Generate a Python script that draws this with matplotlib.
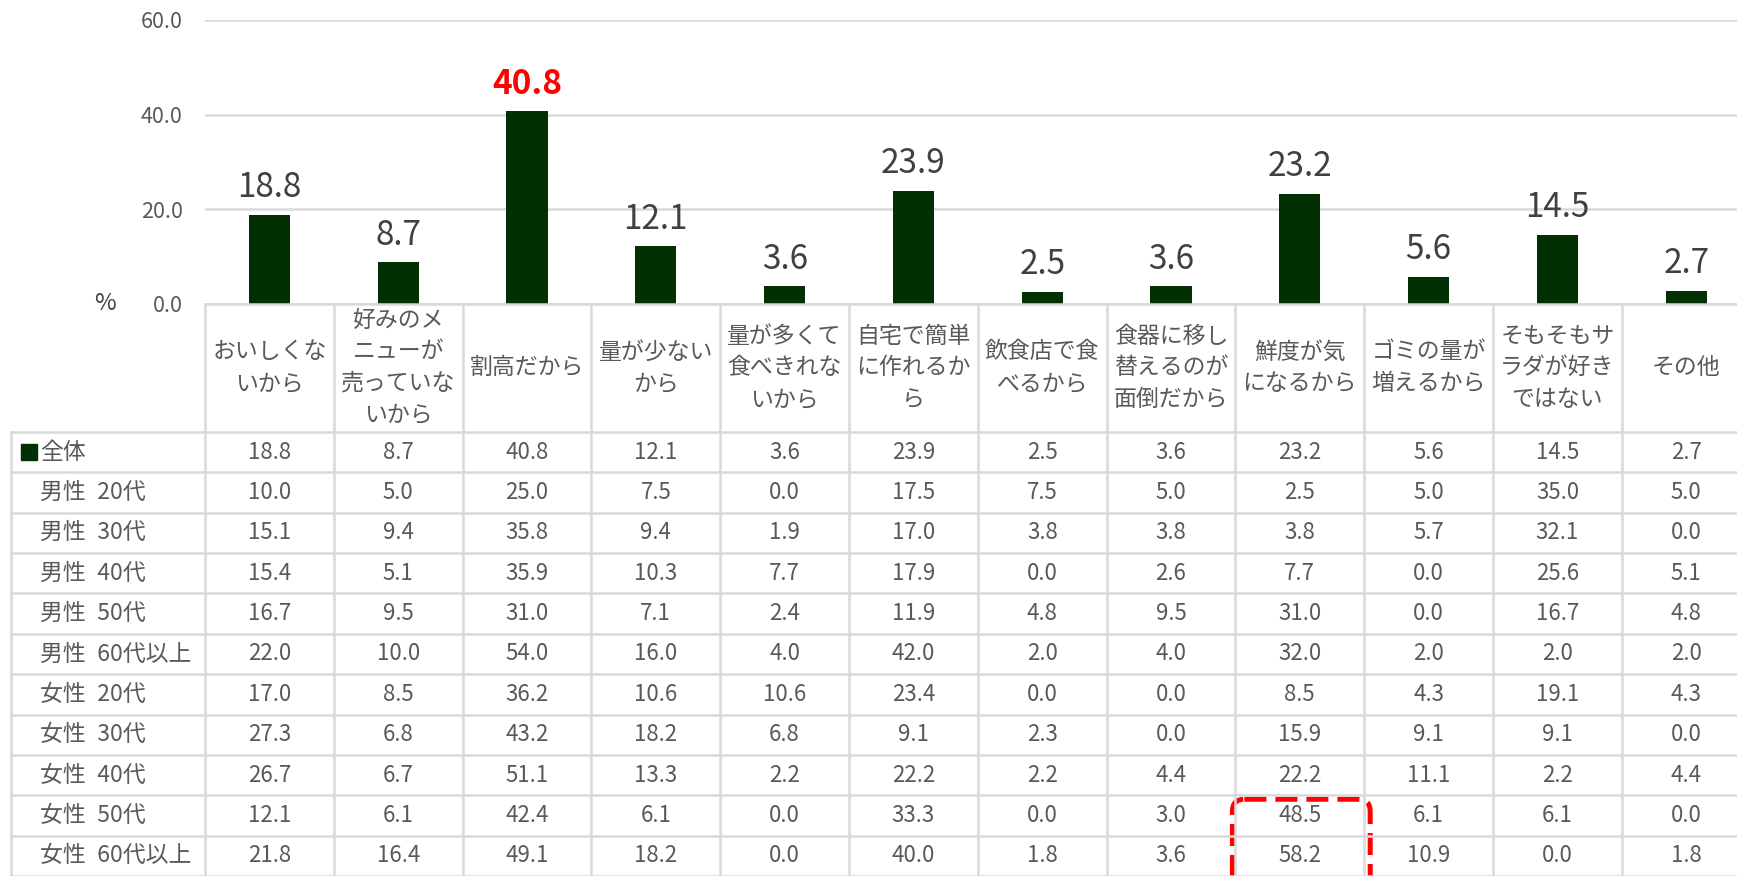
import matplotlib.pyplot as plt
from matplotlib.patches import FancyBboxPatch

plt.rcParams['font.family'] = ['Noto Sans CJK JP', 'DejaVu Sans']

# -------------------------------
# Data
# -------------------------------
reasons = [
    "おいしくな\nいから", "好みのメ\nニューが\n売っていな\nいから", "割高だから",
    "量が少ない\nから", "量が多くて\n食べきれな\nいから", "自宅で簡単\nに作れるか\nら",
    "飲食店で食\nべるから", "食器に移し\n替えるのが\n面倒だから", "鮮度が気\nになるから",
    "ゴミの量が\n増えるから", "そもそもサ\nラダが好き\nではない", "その他",
]
groups = ["全体", "男性\u200220代", "男性\u200230代", "男性\u200240代", "男性\u200250代",
          "男性\u200260代以上", "女性\u200220代", "女性\u200230代", "女性\u200240代",
          "女性\u200250代", "女性\u200260代以上"]

total = [18.8, 8.7, 40.8, 12.1, 3.6, 23.9, 2.5, 3.6, 23.2, 5.6, 14.5, 2.7]
male_20 = [10.0, 5.0, 25.0, 7.5, 0.0, 17.5, 7.5, 5.0, 2.5, 5.0, 35.0, 5.0]
male_30 = [15.1, 9.4, 35.8, 9.4, 1.9, 17.0, 3.8, 3.8, 3.8, 5.7, 32.1, 0.0]
male_40 = [15.4, 5.1, 35.9, 10.3, 7.7, 17.9, 0.0, 2.6, 7.7, 0.0, 25.6, 5.1]
male_50 = [16.7, 9.5, 31.0, 7.1, 2.4, 11.9, 4.8, 9.5, 31.0, 0.0, 16.7, 4.8]
male_60 = [22.0, 10.0, 54.0, 16.0, 4.0, 42.0, 2.0, 4.0, 32.0, 2.0, 2.0, 2.0]
female_20 = [17.0, 8.5, 36.2, 10.6, 10.6, 23.4, 0.0, 0.0, 8.5, 4.3, 19.1, 4.3]
female_30 = [27.3, 6.8, 43.2, 18.2, 6.8, 9.1, 2.3, 0.0, 15.9, 9.1, 9.1, 0.0]
female_40 = [26.7, 6.7, 51.1, 13.3, 2.2, 22.2, 2.2, 4.4, 22.2, 11.1, 2.2, 4.4]
female_50 = [12.1, 6.1, 42.4, 6.1, 0.0, 33.3, 0.0, 3.0, 48.5, 6.1, 6.1, 0.0]
female_60 = [21.8, 16.4, 49.1, 18.2, 0.0, 40.0, 1.8, 3.6, 58.2, 10.9, 0.0, 1.8]
rows = [total, male_20, male_30, male_40, male_50, male_60,
        female_20, female_30, female_40, female_50, female_60]

highlight = 2          # 割高だから, red label
box_col = 8            # 鮮度が気になるから, dashed box
box_rows = (9, 10)     # 女性50代 / 女性60代以上

# -------------------------------
# Layout (pixels of the 1737x876 figure)
# -------------------------------
W, H = 1737, 876
left = 205
col_w = 128.8
zero_y = 303.5
top_y = 20
row_h = 40.4
hdr_h = 128.5

green = "#033003"
grid_c = "#d9d9d9"
txt_c = "#595959"

fig = plt.figure(figsize=(W / 100, H / 100), dpi=100)

# -------------------------------
# Bar chart
# -------------------------------
n = len(total)
x = list(range(n))
ax = fig.add_axes([left / W, (H - zero_y) / H, n * col_w / W, (zero_y - top_y) / H])
ax.bar(x, total, width=0.32, color=green, zorder=3)
ax.set_xlim(-0.5, n - 0.5)
ax.set_ylim(0, 60)
ax.set_yticks([0, 20, 40, 60])
ax.set_yticklabels([f"{v:.1f}" for v in [0, 20, 40, 60]], fontsize=15.5, color=txt_c)
ax.tick_params(axis='y', length=0, pad=16)
ax.set_xticks([])
ax.grid(axis='y', color=grid_c, linewidth=1.8, zorder=0)
for s in ax.spines.values():
    s.set_visible(False)

for i, v in enumerate(total):
    if i == highlight:
        ax.annotate(f"{v:.1f}", (i, v), xytext=(0, 7), textcoords="offset points",
                    ha='center', va='bottom', fontsize=24, color="#ff0000", fontweight='bold')
    else:
        ax.annotate(f"{v:.1f}", (i, v), xytext=(0, 7), textcoords="offset points",
                    ha='center', va='bottom', fontsize=24, color="#404040")

fig.text(105 / W, (H - zero_y) / H, "%", ha='center', va='center', fontsize=17, color="#404040")

# -------------------------------
# Table
# -------------------------------
hdr = hdr_h / row_h
nr = len(rows)
tab = fig.add_axes([left / W, 0, n * col_w / W, (H - zero_y) / H])
tab.set_xlim(-0.5, n - 0.5)
tab.set_ylim(nr, -hdr)
tab.axis('off')

x_lab_edge = (11 - left) / col_w - 0.5
x_lab_txt = (40 - left) / col_w - 0.5
x_square = (29 - left) / col_w - 0.5

lw = 1.8
# vertical borders
for k in range(n + 1):
    tab.plot([k - 0.5, k - 0.5], [-hdr, nr], color=grid_c, lw=lw, clip_on=False)
tab.plot([x_lab_edge, x_lab_edge], [0, nr], color=grid_c, lw=lw, clip_on=False)
# horizontal borders
tab.plot([-0.5, n - 0.5], [-hdr, -hdr], color=grid_c, lw=lw, clip_on=False)
for r in range(nr + 1):
    tab.plot([x_lab_edge, n - 0.5], [r, r], color=grid_c, lw=lw, clip_on=False)

# header
for i, lab in enumerate(reasons):
    tab.text(i, -hdr / 2, lab, ha='center', va='center', fontsize=16.5,
             color=txt_c, linespacing=1.48, clip_on=False)

# rows
for r, (g, vals) in enumerate(zip(groups, rows)):
    tab.text(x_lab_txt, r + 0.5, g, ha='left', va='center', fontsize=16.5,
             color=txt_c, clip_on=False)
    for i, v in enumerate(vals):
        tab.text(i, r + 0.5, f"{v:.1f}", ha='center', va='center', fontsize=16,
                 color=txt_c, clip_on=False)
tab.plot([x_square], [0.5], marker='s', markersize=11, color=green, clip_on=False)

# red dashed box
bx0 = box_col - 0.5 - 3 / col_w
bx1 = box_col + 0.5 + 6 / col_w
by0 = box_rows[0] + 4 / row_h
box = FancyBboxPatch((bx0, by0), bx1 - bx0, nr + 1 - by0,
                     boxstyle=f"round,pad=0,rounding_size={12 / col_w}",
                     mutation_aspect=col_w / row_h,
                     fill=False, edgecolor="#ff0000", lw=3.6,
                     linestyle=(0, (4.4, 1.8)), clip_on=False)
tab.add_patch(box)

fig.savefig("out.png", dpi=100)
